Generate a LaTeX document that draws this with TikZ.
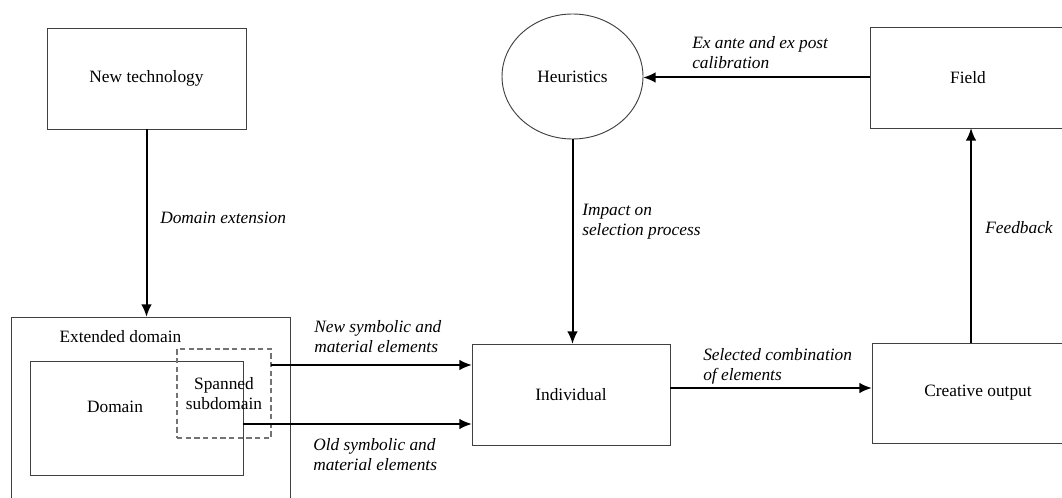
\documentclass[tikz,border=0pt]{standalone}
\usepackage{fontspec}
\setmainfont{Liberation Serif}
\usepackage{tikz}
\usetikzlibrary{arrows.meta,shapes.geometric,calc}

\begin{document}
\begin{tikzpicture}[x=0.75pt,y=-0.75pt,
  nbox/.style={draw=black!75, line width=0.7pt, inner sep=0pt, outer sep=0pt},
  arr/.style={line width=1.5pt, -{Latex[length=9.5pt,width=8pt]}},
  lbl/.style={anchor=west, align=left, font=\itshape, inner sep=0pt}]
\clip (0,0) rectangle (1062,498);
\fontsize{13}{15}\selectfont

%Boxes
\node[nbox, minimum width=149.25pt, minimum height=75.75pt] (newtech) at (146.5,78.5) {New technology};
\node[nbox, minimum width=209.25pt, minimum height=159.75pt] (extdom) at (150.5,423.5) {};
\node (extlbl) at (120.5,337) {Extended domain};
\node[nbox, minimum width=159.75pt, minimum height=85.5pt] (dom) at (136.5,418) {};
\node (domlbl) at (115,407) {Domain};
\node[nbox, draw=black!55, dashed, dash pattern=on 4pt off 2.5pt, line width=1.1pt,
  minimum width=70.5pt, minimum height=66.75pt, align=center] (span) at (224,393.5) {Spanned\\subdomain};
\node[nbox, minimum width=148.5pt, minimum height=75.75pt] (indiv) at (571,394.5) {Individual};
\node[nbox, ellipse, minimum width=105.75pt, minimum height=93.75pt] (heur) at (572.5,76.5) {Heuristics};
\node[nbox, minimum width=147pt, minimum height=75.75pt] (field) at (968,77.5) {Field};
\node[nbox, minimum width=159pt, minimum height=75pt] (creat) at (978,393) {Creative output};

%Arrows
\draw[arr] (newtech.south) -- (newtech.south |- extdom.north);
\draw[arr] (span.east |- 0,365) -- (indiv.west |- 0,365);
\draw[arr] (dom.east |- 0,424) -- (indiv.west |- 0,424);
\draw[arr] (heur.south) -- (heur.south |- indiv.north);
\draw[arr] (field.west) -- (heur.east |- field.west);
\draw[arr] (indiv.east |- 0,388) -- (creat.west |- 0,388);
\draw[arr] (creat.north -| 971,0) -- (field.south -| 971,0);

%Labels
\node[lbl] (lext) at (160,218) {Domain extension};
\node[lbl] (lnew) at (314,337) {New symbolic and\\material elements};
\node[lbl] (lold) at (313,455) {Old symbolic and\\material elements};
\node[lbl] (limp) at (582,222) {Impact on\\selection process};
\node[lbl] (lcal) at (692,53) {Ex ante and ex post\\calibration};
\node[lbl] (lsel) at (703,366) {Selected combination\\of elements};
\node[lbl] (lfee) at (985,228) {Feedback};
\end{tikzpicture}
\end{document}
